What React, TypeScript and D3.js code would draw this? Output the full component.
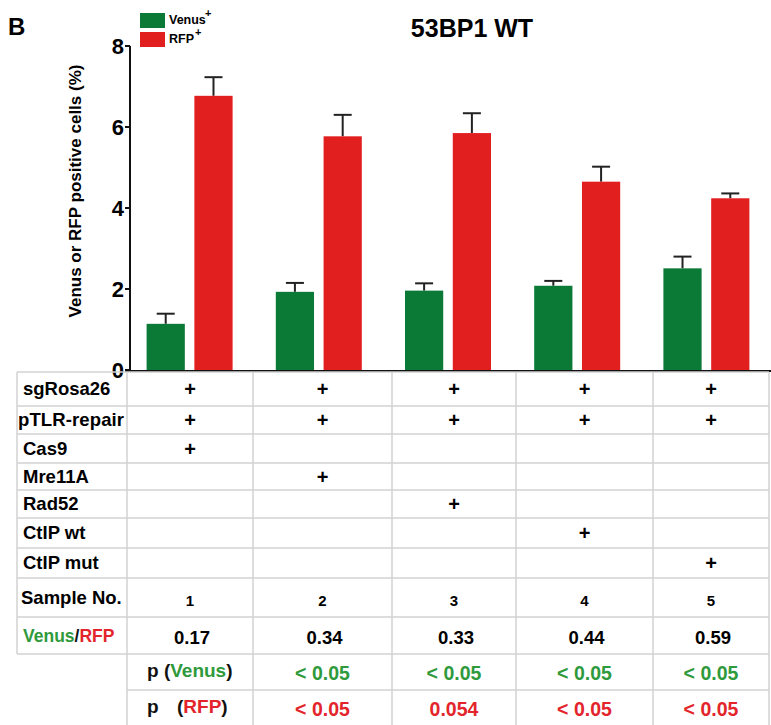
import React from "react";
import * as d3 from "d3";

// Bar values (% positive cells) and upper error (mean + SEM)
const samples = ["1", "2", "3", "4", "5"];
const venusMean = [1.14, 1.93, 1.96, 2.08, 2.51];
const venusUpper = [1.39, 2.15, 2.14, 2.2, 2.8];
const rfpMean = [6.77, 5.77, 5.85, 4.65, 4.24];
const rfpUpper = [7.23, 6.3, 6.34, 5.02, 4.36];
const yTicks = [0, 2, 4, 6, 8];

// Treatment table
const conditionLabels = ["sgRosa26", "pTLR-repair", "Cas9", "Mre11A", "Rad52", "CtIP wt", "CtIP mut"];
const conditionMatrix = [
  [1, 1, 1, 1, 1],
  [1, 1, 1, 1, 1],
  [1, 0, 0, 0, 0],
  [0, 1, 0, 0, 0],
  [0, 0, 1, 0, 0],
  [0, 0, 0, 1, 0],
  [0, 0, 0, 0, 1],
];
const ratioValues = ["0.17", "0.34", "0.33", "0.44", "0.59"];
const pVenus = ["< 0.05", "< 0.05", "< 0.05", "< 0.05"];
const pRfp = ["< 0.05", "0.054", "< 0.05", "< 0.05"];

const GREEN = "#0a7a36";
const RED = "#e21f1f";
const TXT_GREEN = "#2f9a3c";
const TXT_RED = "#e3242b";
const GRID = "#d2d2d2";
const FONT = "'Liberation Sans', Arial, Helvetica, sans-serif";

export default function App() {
  const W = 771;
  const H = 725;
  const axisX = 130;
  const y = d3.scaleLinear().domain([0, 8]).range([370, 46]);
  const x = d3.scaleBand().domain(samples).range([125, 771]);
  const inner = d3.scaleBand().domain(["venus", "rfp"]).range([-43, 43]).paddingInner(0.2);

  // table geometry
  const colEdges = [127, 253, 392, 516, 653, 769];
  const rowEdges = [372, 406, 434, 463, 490, 518, 548, 578, 617, 654, 690, 725];
  const labelLeft = 17;
  const colCenter = (i: number) => (colEdges[i] + colEdges[i + 1]) / 2;
  const rowCenter = (i: number) => (rowEdges[i] + rowEdges[i + 1]) / 2;

  const capHalf = 9;

  return (
    <svg width={W} height={H} style={{ position: "absolute", left: 0, top: 0, background: "#fff" }} fontFamily={FONT}>
      <rect width={W} height={H} fill="#fff" />
      {/* panel letter and title */}
      <text x={8} y={35} fontSize={24} fontWeight="bold">B</text>
      <text x={472} y={37} fontSize={25} fontWeight="bold" textAnchor="middle">53BP1 WT</text>

      {/* legend */}
      <rect x={140} y={13} width={25} height={15} fill={GREEN} />
      <rect x={140} y={32} width={25} height={15} fill={RED} />
      <text x={169} y={24} fontSize={12.5} fontWeight="bold">Venus</text>
      <text x={205} y={17} fontSize={11} fontWeight="bold">+</text>
      <text x={169} y={43} fontSize={12.5} fontWeight="bold">RFP</text>
      <text x={195} y={36} fontSize={11} fontWeight="bold">+</text>

      {/* y axis */}
      <text
        transform={`translate(81,191) rotate(-90)`}
        textAnchor="middle"
        fontSize={17}
        fontWeight="bold"
      >
        Venus or RFP positive cells (%)
      </text>
      <line x1={axisX} x2={axisX} y1={y(8)} y2={y(0)} stroke="#111" strokeWidth={2} />
      {yTicks.map((t) => (
        <g key={t}>
          <line x1={axisX - 5} x2={axisX} y1={y(t)} y2={y(t)} stroke="#111" strokeWidth={2} />
          <text x={axisX - 6} y={y(t) + 8} fontSize={22} fontWeight="bold" textAnchor="end">
            {t}
          </text>
        </g>
      ))}

      {/* bars with upper error bars */}
      {samples.map((s, i) => {
        const cx = x(s)! + x.bandwidth() / 2;
        const bars = [
          { key: "venus", mean: venusMean[i], up: venusUpper[i], color: GREEN },
          { key: "rfp", mean: rfpMean[i], up: rfpUpper[i], color: RED },
        ];
        return (
          <g key={s}>
            {bars.map((b) => {
              const bx = cx + inner(b.key)!;
              const mid = bx + inner.bandwidth() / 2;
              return (
                <g key={b.key}>
                  <line x1={mid} x2={mid} y1={y(b.mean)} y2={y(b.up)} stroke="#222" strokeWidth={2} />
                  <line x1={mid - capHalf} x2={mid + capHalf} y1={y(b.up)} y2={y(b.up)} stroke="#222" strokeWidth={2} />
                  <rect x={bx} y={y(b.mean)} width={inner.bandwidth()} height={y(0) - y(b.mean)} fill={b.color} />
                </g>
              );
            })}
          </g>
        );
      })}
      <line x1={axisX - 5} x2={W} y1={y(0) + 1} y2={y(0) + 1} stroke="#111" strokeWidth={2} />

      {/* table grid */}
      <g stroke={GRID} strokeWidth={1.5}>
        {rowEdges.slice(0, 10).map((ry, i) => (
          <line key={`hl${i}`} x1={labelLeft} x2={colEdges[5]} y1={ry} y2={ry} />
        ))}
        {rowEdges.slice(10, 11).map((ry, i) => (
          <line key={`hp${i}`} x1={colEdges[0]} x2={colEdges[5]} y1={ry} y2={ry} />
        ))}
        <line x1={labelLeft} x2={labelLeft} y1={rowEdges[0]} y2={rowEdges[9]} />
        {colEdges.map((cx, i) => (
          <line key={`v${i}`} x1={cx} x2={cx} y1={rowEdges[0]} y2={H} />
        ))}
      </g>

      {/* condition rows */}
      {conditionLabels.map((lab, r) => (
        <g key={lab}>
          <text x={lab === "pTLR-repair" ? 18 : 23} y={rowCenter(r) + 6} fontSize={18.5} fontWeight="bold"
            textLength={lab === "pTLR-repair" ? 106 : undefined}>
            {lab}
          </text>
          {conditionMatrix[r].map((v, c) =>
            v ? (
              <text key={c} x={colCenter(c)} y={rowCenter(r) + 7} fontSize={20} fontWeight="bold" textAnchor="middle">
                +
              </text>
            ) : null
          )}
        </g>
      ))}

      {/* sample numbers */}
      <text x={21} y={rowCenter(7) + 6} fontSize={18.5} fontWeight="bold">Sample No.</text>
      {samples.map((s, c) => (
        <text key={s} x={colCenter(c)} y={rowCenter(7) + 8} fontSize={15} fontWeight="bold" textAnchor="middle">
          {s}
        </text>
      ))}

      {/* ratio row */}
      <text x={23} y={rowCenter(8) + 6} fontSize={17.5} fontWeight="bold">
        <tspan fill={TXT_GREEN}>Venus</tspan>
        <tspan fill="#111">/</tspan>
        <tspan fill={TXT_RED}>RFP</tspan>
      </text>
      {ratioValues.map((v, c) => (
        <text key={c} x={colCenter(c) + 2} y={rowCenter(8) + 8} fontSize={18.5} fontWeight="bold" textAnchor="middle">
          {v}
        </text>
      ))}

      {/* p-values */}
      <text x={147} y={rowCenter(9) + 5} fontSize={19} fontWeight="bold" xmlSpace="preserve">
        <tspan fill="#111">p (</tspan>
        <tspan fill={TXT_GREEN}>Venus</tspan>
        <tspan fill="#111">)</tspan>
      </text>
      <text x={147} y={rowCenter(10) + 5} fontSize={19} fontWeight="bold" xmlSpace="preserve">
        <tspan fill="#111">p</tspan>
        <tspan fill="#111" x={177}>(</tspan>
        <tspan fill={TXT_RED}>RFP</tspan>
        <tspan fill="#111">)</tspan>
      </text>
      {pVenus.map((v, c) => (
        <text key={c} x={colCenter(c + 1)} y={rowCenter(9) + 8} fontSize={19.5} fontWeight="bold" textAnchor="middle" fill={TXT_GREEN}>
          {v}
        </text>
      ))}
      {pRfp.map((v, c) => (
        <text key={c} x={colCenter(c + 1)} y={rowCenter(10) + 8} fontSize={19.5} fontWeight="bold" textAnchor="middle" fill={TXT_RED}>
          {v}
        </text>
      ))}
    </svg>
  );
}
